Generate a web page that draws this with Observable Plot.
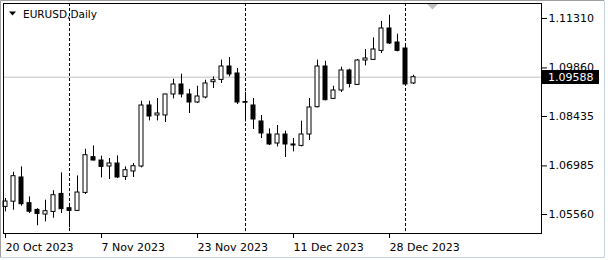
<!DOCTYPE html>
<html><head><meta charset="utf-8">
<script src="https://cdn.jsdelivr.net/npm/d3@7"></script>
<script src="https://cdn.jsdelivr.net/npm/@observablehq/plot@0.6"></script>
<style>html,body{margin:0;padding:0;background:#fff;}</style>
</head><body><div id="chart"></div>
<script>
const symbolTitle = "EURUSD,Daily";
const dates = ["2023-10-20","2023-10-23","2023-10-24","2023-10-25","2023-10-26","2023-10-27","2023-10-30","2023-10-31",
"2023-11-01","2023-11-02","2023-11-03","2023-11-06","2023-11-07","2023-11-08","2023-11-09","2023-11-10",
"2023-11-13","2023-11-14","2023-11-15","2023-11-16","2023-11-17","2023-11-20","2023-11-21","2023-11-22","2023-11-23","2023-11-24",
"2023-11-27","2023-11-28","2023-11-29","2023-11-30","2023-12-01","2023-12-04","2023-12-05","2023-12-06","2023-12-07","2023-12-08",
"2023-12-11","2023-12-12","2023-12-13","2023-12-14","2023-12-15","2023-12-18","2023-12-19","2023-12-20","2023-12-21","2023-12-22",
"2023-12-26","2023-12-27","2023-12-28","2023-12-29","2024-01-02","2024-01-03"];
const open  = [1.05783,1.05936,1.06646,1.05892,1.05695,1.05560,1.05636,1.06164,1.05745,1.05666,1.06194,1.07241,1.07144,1.06968,1.07056,1.06663,1.06822,1.06968,1.08758,1.08465,1.08465,1.09081,1.09374,1.09081,1.08846,1.08993,1.09442,1.09509,1.09902,1.09697,1.08860,1.08758,1.08289,1.07907,1.07643,1.07907,1.07614,1.07573,1.07907,1.08708,1.09902,1.08952,1.09198,1.09785,1.09362,1.10078,1.10096,1.10360,1.11017,1.10606,1.10430,1.09404];
const high  = [1.06029,1.06801,1.06957,1.06076,1.05730,1.05980,1.06258,1.06781,1.05804,1.06693,1.07476,1.07573,1.07271,1.07203,1.07279,1.06957,1.07056,1.08884,1.08884,1.08963,1.09090,1.09530,1.09676,1.09228,1.09324,1.09500,1.09597,1.10087,1.10166,1.09844,1.09148,1.08963,1.08465,1.08071,1.08171,1.08004,1.07790,1.08297,1.08963,1.10087,1.10058,1.09324,1.09882,1.09823,1.10108,1.10401,1.10741,1.11223,1.11407,1.10850,1.10507,1.09647];
const low   = [1.05636,1.05686,1.05804,1.05589,1.05231,1.05343,1.05451,1.05589,1.05167,1.05657,1.06147,1.07130,1.06634,1.06587,1.06616,1.06558,1.06646,1.06927,1.08306,1.08306,1.08259,1.08952,1.08981,1.08523,1.08817,1.08952,1.09257,1.09404,1.09597,1.08787,1.08277,1.08054,1.07790,1.07584,1.07543,1.07232,1.07397,1.07543,1.07731,1.08688,1.08893,1.08934,1.09139,1.09274,1.09345,1.09920,1.10078,1.10284,1.10548,1.10331,1.09354,1.09374];
const close = [1.05941,1.06684,1.05862,1.05642,1.05578,1.05657,1.06126,1.05716,1.05666,1.06205,1.07300,1.07144,1.06957,1.07056,1.06646,1.06860,1.06977,1.08758,1.08435,1.08523,1.09081,1.09374,1.09081,1.08846,1.09022,1.09404,1.09500,1.09902,1.09668,1.08846,1.08840,1.08347,1.07937,1.07614,1.07907,1.07614,1.07584,1.07907,1.08699,1.09902,1.08914,1.09198,1.09785,1.09392,1.10078,1.10137,1.10401,1.11017,1.10577,1.10360,1.09374,1.09588];
const yTickValues = [1.05560, 1.06985, 1.08435, 1.09860, 1.11310];
const xTickDates = ["2023-10-20","2023-11-07","2023-11-23","2023-12-11","2023-12-28"];
const xTickLabels = ["20 Oct 2023","7 Nov 2023","23 Nov 2023","11 Dec 2023","28 Dec 2023"];
const separatorDates = ["2023-11-01","2023-12-01","2024-01-02"];

const bars = dates.map((d, i) => ({i, date: d, open: open[i], high: high[i], low: low[i], close: close[i]}));
const idx = d => dates.indexOf(d);
const xTickIdx = xTickDates.map(idx);
const lastClose = close[close.length - 1];

const chart = Plot.plot({
  width: 608, height: 260,
  marginLeft: 3, marginTop: 3, marginRight: 67, marginBottom: 27,
  style: {fontFamily: "DejaVu Sans", fontSize: "11px", color: "#000", background: "#fff", overflow: "visible"},
  x: {type: "linear", domain: [-0.25, 67], axis: null, label: null},
  y: {domain: [1.05003, 1.11750], axis: null, label: null},
  color: {type: "identity"},
  marks: [
    Plot.ruleY([lastClose], {stroke: "#c0c0c0"}),
    Plot.ruleX(separatorDates.map(idx), {stroke: "#000", strokeDasharray: "3,2"}),
    Plot.ruleX(bars, {x: "i", y1: "low", y2: "high", stroke: "#000"}),
    Plot.rect(bars, {x1: d => d.i - 0.25, x2: d => d.i + 0.25, y1: "open", y2: "close",
      fill: d => d.close >= d.open ? "#fff" : "#000", stroke: "#000"}),
    Plot.frame({stroke: "#000"}),
    Plot.axisY(yTickValues, {anchor: "right", tickSize: 5, tickPadding: 2, tickFormat: d => d.toFixed(5), label: null}),
    Plot.axisX(xTickIdx, {anchor: "bottom", tickSize: 5, tickPadding: 5, textAnchor: "start", label: null,
      tickFormat: d => xTickLabels[xTickIdx.indexOf(d)]})
  ]
});
document.getElementById("chart").appendChild(chart);

const svg = d3.select(chart);
const yc = chart.scale("y").apply(lastClose);
const g = svg.append("g").attr("text-anchor", "start").attr("font-family", "DejaVu Sans");
// current price label box
g.append("rect").attr("x", 542).attr("y", Math.round(yc) - 7).attr("width", 57).attr("height", 14).attr("fill", "#000");
g.append("text").attr("x", 548).attr("y", yc + 0.5).attr("dy", "0.32em").attr("fill", "#fff")
  .attr("text-anchor", "start").attr("font-size", 11).text(lastClose.toFixed(5));
// title
g.append("path").attr("d", "M9,11.5L16,11.5L12.5,15.5Z").attr("fill", "#000");
g.append("text").attr("x", 23).attr("y", 17.5).attr("fill", "#000")
  .attr("text-anchor", "start").attr("font-size", 10.5).text(symbolTitle);
// chart shift marker
g.append("path").attr("d", "M427,4L438,4L432.5,9.5Z").attr("fill", "#c0c0c0");
// window border
g.append("path").attr("d", "M0.5,257.5V0.5H604").attr("fill", "none").attr("stroke", "#a0a0a0");
g.append("path").attr("d", "M604.5,0.5V257.5H0.5").attr("fill", "none").attr("stroke", "#c6d2e0");
</script>
</body></html>
